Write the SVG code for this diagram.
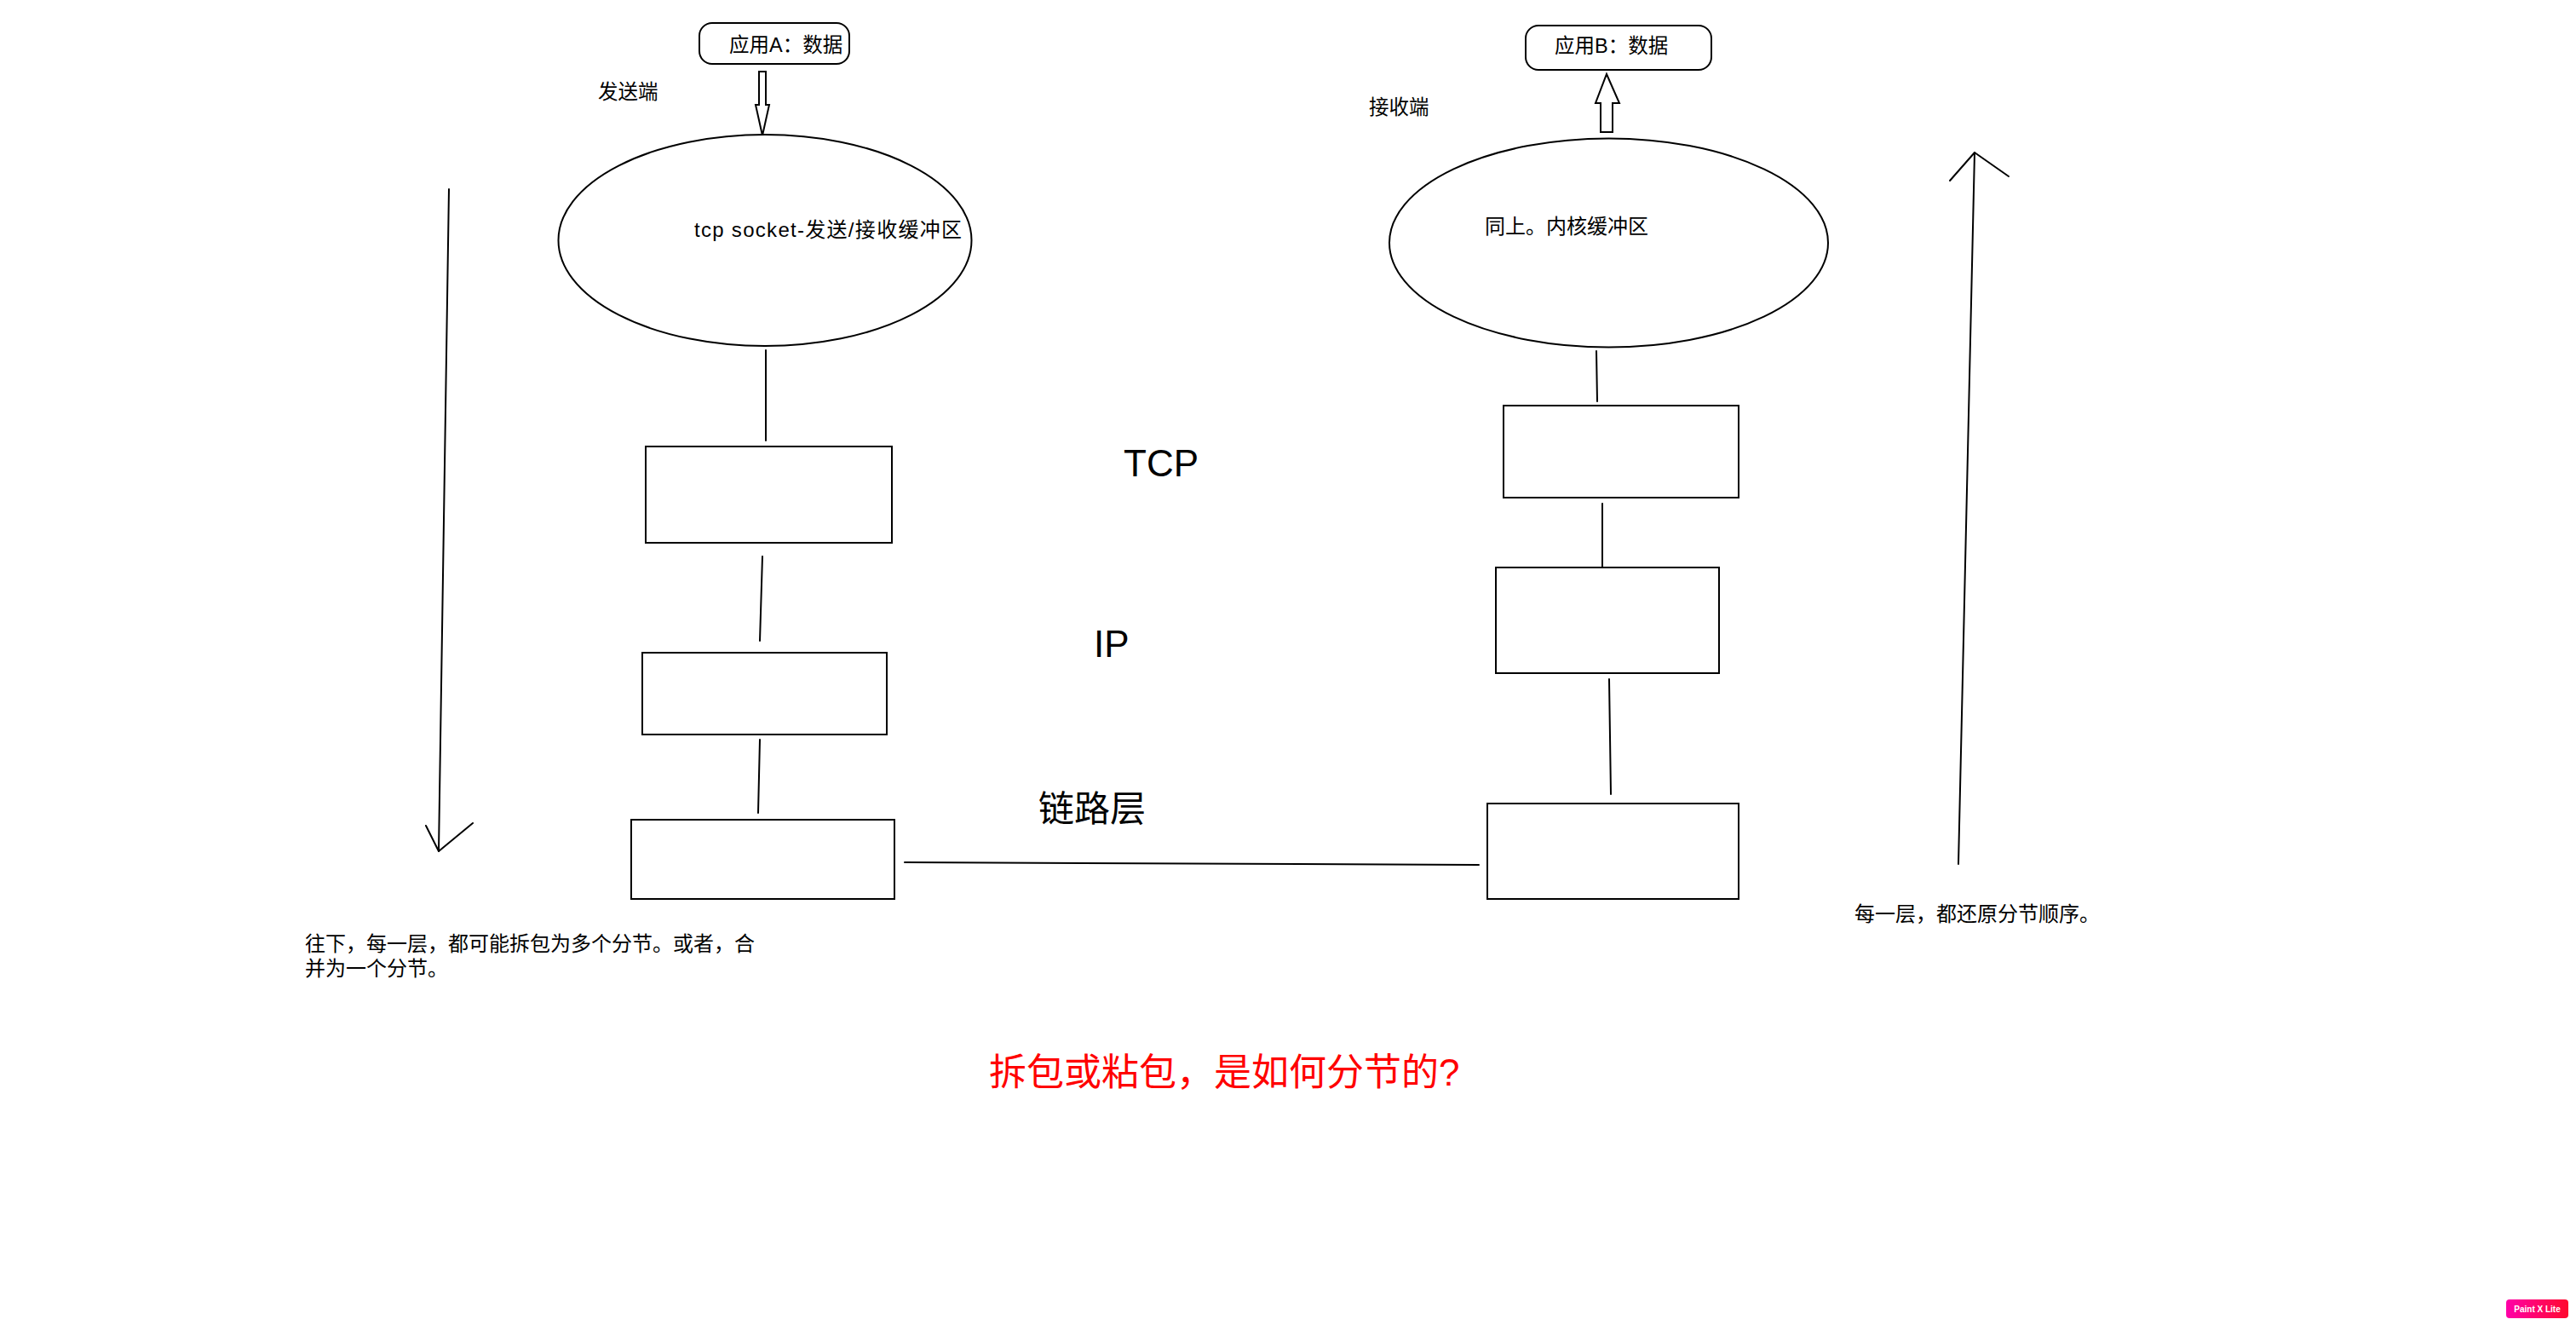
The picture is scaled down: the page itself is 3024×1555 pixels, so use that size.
<svg xmlns="http://www.w3.org/2000/svg" width="3024" height="1555" viewBox="0 0 3024 1555">
<defs>
<style>
.s{fill:#fff;stroke:#000;stroke-width:2}
.ln{fill:none;stroke:#000;stroke-width:2;stroke-linecap:round;stroke-linejoin:round}
.t{font-family:"Liberation Sans","Noto Sans CJK SC",sans-serif;font-size:24px;fill:#000}
.big{font-size:44px}
.red{fill:#ff0000}
</style>
<linearGradient id="pg" x1="0" y1="0" x2="1" y2="0">
<stop offset="0" stop-color="#ff00a8"/>
<stop offset="1" stop-color="#ff0a2e"/>
</linearGradient>
</defs>
<rect width="3024" height="1555" fill="#fff"/>

<g id="connectors">
<polygon class="s" points="891,84 899,84 899,123 903,123 895,159 887,123 891,123"/>
<polygon class="s" points="1886,87 1901,121 1893,121 1893,155 1879,155 1879,121 1873,121"/>
<line class="ln" x1="899" y1="411" x2="899" y2="517"/>
<line class="ln" x1="895" y1="653" x2="892" y2="752"/>
<line class="ln" x1="892" y1="868" x2="890" y2="954"/>
<line class="ln" x1="1062" y1="1012" x2="1736" y2="1015"/>
<line class="ln" x1="1874" y1="412" x2="1875" y2="471"/>
<line class="ln" x1="1881" y1="591" x2="1881" y2="669"/>
<line class="ln" x1="1889" y1="797" x2="1891" y2="932"/>
<line class="ln" x1="527" y1="222" x2="515" y2="999"/>
<polyline class="ln" points="500,969 515,999 555,966"/>
<line class="ln" x1="2299" y1="1014" x2="2318" y2="179"/>
<polyline class="ln" points="2289,212 2318,179 2358,207"/>
</g>

<g id="appA">
<rect class="s" x="821" y="27" width="176" height="48" rx="15" ry="15"/>
<text class="t" x="856" y="61" style="font-size:23.5px">应用A：数据</text>
</g>
<g id="appB">
<rect class="s" x="1791" y="30" width="218" height="52" rx="15" ry="15"/>
<text class="t" x="1825" y="62" style="font-size:23.5px">应用B：数据</text>
</g>

<g id="label-sender"><text class="t" x="702" y="116" style="font-size:23.5px">发送端</text></g>
<g id="label-receiver"><text class="t" x="1607" y="134" style="font-size:23.5px">接收端</text></g>

<g id="socketA">
<ellipse class="s" cx="898" cy="282" rx="242.5" ry="124"/>
<text class="t" x="815" y="278" textLength="314" lengthAdjust="spacing">tcp socket-发送/接收缓冲区</text>
</g>
<g id="socketB">
<ellipse class="s" cx="1888.5" cy="285" rx="257.5" ry="122.5"/>
<text class="t" x="1743" y="274">同上。内核缓冲区</text>
</g>

<g id="tcpA"><rect class="s" x="758" y="524" width="289" height="113"/></g>
<g id="ipA"><rect class="s" x="754" y="766" width="287" height="96"/></g>
<g id="linkA"><rect class="s" x="741" y="962" width="309" height="93"/></g>
<g id="tcpB"><rect class="s" x="1765" y="476" width="276" height="108"/></g>
<g id="ipB"><rect class="s" x="1756" y="666" width="262" height="124"/></g>
<g id="linkB"><rect class="s" x="1746" y="943" width="295" height="112"/></g>

<g id="label-tcp"><text class="t big" x="1319" y="559">TCP</text></g>
<g id="label-ip"><text class="t big" x="1284" y="771">IP</text></g>
<g id="label-link"><text class="t" x="1219" y="964" style="font-size:42px">链路层</text></g>

<g id="note-down">
<text class="t" x="358" y="1116">往下，每一层，都可能拆包为多个分节。或者，合</text>
<text class="t" x="358" y="1145">并为一个分节。</text>
</g>
<g id="note-up"><text class="t" x="2177" y="1081">每一层，都还原分节顺序。</text></g>

<g id="question"><text class="t big red" x="1161" y="1274">拆包或粘包，是如何分节的?</text></g>

<g id="badge">
<rect x="2942" y="1525" width="73" height="22" rx="4" fill="url(#pg)"/>
<text x="2978.5" y="1540" text-anchor="middle" style="font-family:'Liberation Sans',sans-serif;font-weight:bold;font-size:10px;fill:#fff">Paint X Lite</text>
</g>
</svg>
